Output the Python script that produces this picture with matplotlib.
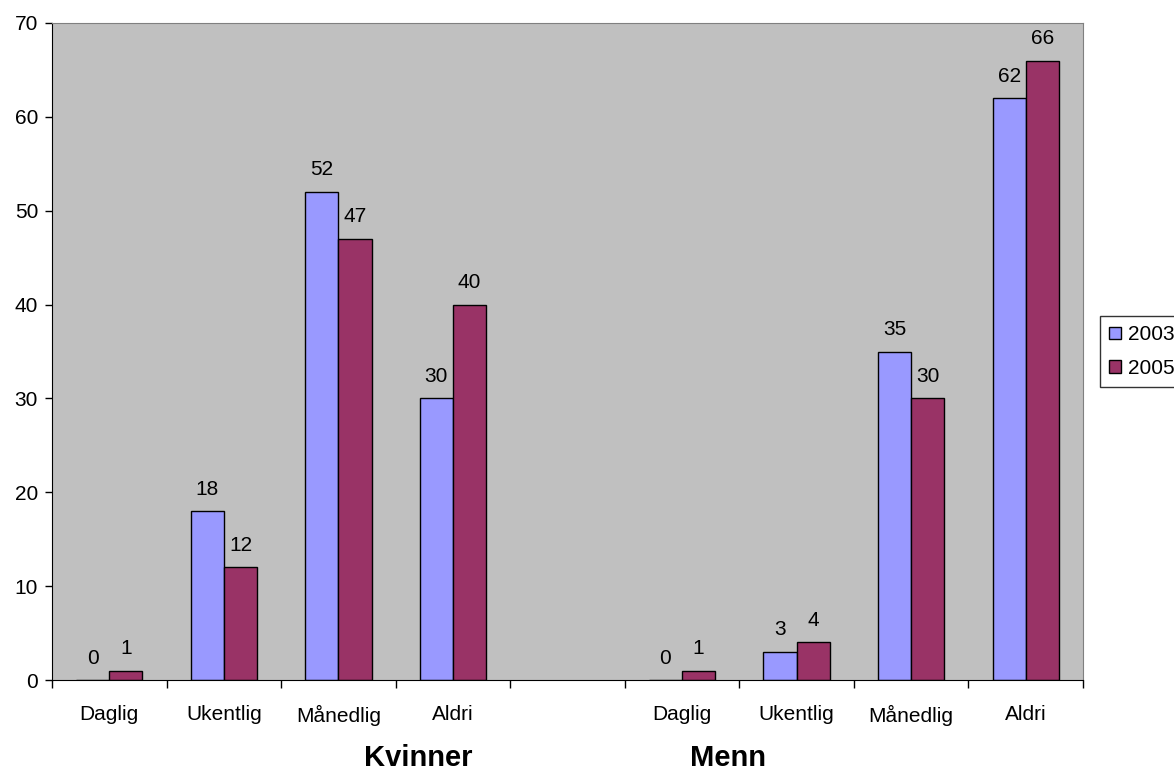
import numpy as np
import matplotlib.pyplot as plt

plt.rcParams['font.family'] = ['Liberation Sans', 'DejaVu Sans']

categories = ['Daglig', 'Ukentlig', 'Månedlig', 'Aldri', '',
              'Daglig', 'Ukentlig', 'Månedlig', 'Aldri']
v2003 = [0, 18, 52, 30, None, 0, 3, 35, 62]
v2005 = [1, 12, 47, 40, None, 1, 4, 30, 66]
groups = ['Kvinner', 'Menn']

mFont = 15
barW = 0.29

fig = plt.figure(figsize=(11.74, 7.69), dpi=100)
ax = fig.add_axes([52 / 1174, 1 - 680 / 769, 1031 / 1174, 657 / 769])
ax.set_facecolor('#C0C0C0')

centers = np.arange(len(categories)) + 0.5
idx = [i for i, v in enumerate(v2003) if v is not None]
x = centers[idx]
a = [v2003[i] for i in idx]
b = [v2005[i] for i in idx]

ax.bar(x - barW / 2, a, barW, color='#9999FF', edgecolor='black', linewidth=1, label='2003')
ax.bar(x + barW / 2, b, barW, color='#993366', edgecolor='black', linewidth=1, label='2005')

for xi, val in zip(x - barW / 2, a):
    ax.annotate(str(val), (xi, val), xytext=(0, 9), textcoords='offset points',
                ha='center', va='bottom', fontsize=mFont)
for xi, val in zip(x + barW / 2, b):
    ax.annotate(str(val), (xi, val), xytext=(0, 9), textcoords='offset points',
                ha='center', va='bottom', fontsize=mFont)

ax.set_xlim(0, len(categories))
ax.set_ylim(0, 70)
ax.set_yticks(np.arange(0, 71, 10))
ax.tick_params(axis='y', labelsize=mFont, length=5, width=1, pad=5)

ax.set_xticks(np.arange(0, len(categories) + 1))
ax.set_xticklabels([])
ax.set_xticks(centers, minor=True)
ax.set_xticklabels(categories, minor=True)
ax.tick_params(axis='x', which='major', length=6, width=1)
ax.tick_params(axis='x', which='minor', length=0, labelsize=mFont, pad=18)

for s in ['top', 'right']:
    ax.spines[s].set_color('#808080')
for s in ['left', 'bottom']:
    ax.spines[s].set_color('black')

fig.text(418 / 1174, (769 - 766) / 769, groups[0], ha='center', va='baseline',
         fontsize=21, fontweight='bold')
fig.text(728 / 1174, (769 - 766) / 769, groups[1], ha='center', va='baseline',
         fontsize=21, fontweight='bold')

fig.legend(loc='upper left', bbox_to_anchor=(1100 / 1174, 1 - 316 / 769),
           fontsize=mFont, frameon=True, fancybox=False, edgecolor='black',
           handlelength=0.55, handleheight=0.55, handletextpad=0.35,
           borderpad=0.45, labelspacing=0.7, borderaxespad=0)

fig.savefig('out.png', dpi=100)
